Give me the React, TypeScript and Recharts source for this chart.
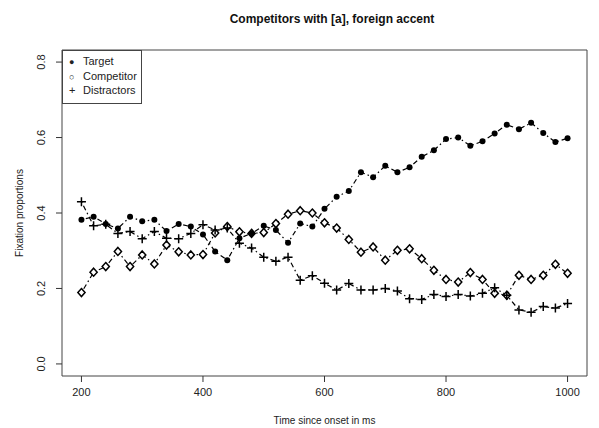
import { LineChart, Line, XAxis, YAxis, ReferenceArea } from 'recharts';

const times = [
  200, 220, 240, 260, 280, 300, 320, 340, 360, 380, 400, 420, 440, 460, 480, 500, 520, 540, 560, 580, 600,
  620, 640, 660, 680, 700, 720, 740, 760, 780, 800, 820, 840, 860, 880, 900, 920, 940, 960, 980, 1000,
];

const target = [
  0.382, 0.39, 0.371, 0.359, 0.39, 0.378, 0.382, 0.352, 0.371, 0.364, 0.343, 0.298, 0.275, 0.333, 0.346,
  0.366, 0.355, 0.321, 0.372, 0.364, 0.411, 0.443, 0.458, 0.508, 0.495, 0.525, 0.508, 0.521, 0.549, 0.566,
  0.596, 0.6, 0.578, 0.59, 0.611, 0.634, 0.622, 0.639, 0.612, 0.588, 0.598,
];

const competitor = [
  0.189, 0.243, 0.258, 0.298, 0.258, 0.289, 0.265, 0.315, 0.297, 0.289, 0.29, 0.347, 0.364, 0.35, 0.346,
  0.348, 0.372, 0.397, 0.406, 0.4, 0.374, 0.36, 0.33, 0.296, 0.31, 0.275, 0.301, 0.305, 0.279, 0.248,
  0.224, 0.217, 0.242, 0.224, 0.187, 0.182, 0.235, 0.224, 0.235, 0.264, 0.24,
];

const distractors = [
  0.43, 0.366, 0.37, 0.346, 0.351, 0.332, 0.351, 0.333, 0.332, 0.346, 0.369, 0.355, 0.36, 0.32, 0.307,
  0.283, 0.272, 0.283, 0.222, 0.234, 0.214, 0.196, 0.213, 0.196, 0.196, 0.2, 0.193, 0.173, 0.171, 0.184,
  0.179, 0.184, 0.18, 0.187, 0.202, 0.182, 0.143, 0.137, 0.152, 0.148, 0.16,
];

const xTicks = [200, 400, 600, 800, 1000];
const yTicks = [0, 0.2, 0.4, 0.6, 0.8];

const data = times.map((t, i) => ({
  time: t,
  target: target[i],
  competitor: competitor[i],
  distractors: distractors[i],
}));

const FONT = '"Liberation Sans", Arial, sans-serif';
const DASH = '1.5 3 5 3';

const FilledDot = (props: any) => {
  const { cx, cy, index } = props;
  if (cx == null || cy == null) return null;
  return <circle key={`t-${index}`} cx={cx} cy={cy} r={3} fill="#000" />;
};

const Diamond = (props: any) => {
  const { cx, cy, index } = props;
  if (cx == null || cy == null) return null;
  return (
    <path
      key={`c-${index}`}
      d={`M${cx},${cy - 4} L${cx + 3.6},${cy} L${cx},${cy + 4} L${cx - 3.6},${cy} Z`}
      fill="#fff"
      stroke="#000"
      strokeWidth={1.5}
    />
  );
};

const Plus = (props: any) => {
  const { cx, cy, index } = props;
  if (cx == null || cy == null) return null;
  return (
    <path
      key={`d-${index}`}
      d={`M${cx - 4.5},${cy} H${cx + 4.5} M${cx},${cy - 4.5} V${cy + 4.5}`}
      stroke="#000"
      strokeWidth={1.5}
    />
  );
};

const YTick = (props: any) => {
  const { y, payload } = props;
  return (
    <text
      x={45}
      y={y}
      transform={`rotate(-90 45 ${y})`}
      textAnchor="middle"
      fontSize={11}
      fontFamily={FONT}
      fill="#222"
    >
      {payload.value.toFixed(1)}
    </text>
  );
};

export default function App() {
  return (
    <div style={{ position: 'absolute', left: 0, top: 0, width: 599, height: 428, background: '#fff', fontFamily: FONT }}>
      <div style={{ position: 'absolute', left: 0, width: 664, top: 12, textAlign: 'center', fontSize: 12, fontWeight: 'bold', color: '#111' }}>
        Competitors with [a], foreign accent
      </div>
      <LineChart width={599} height={428} data={data} margin={{ top: 50, right: 12, bottom: 22, left: 22 }}>
        <XAxis
          dataKey="time"
          type="number"
          domain={[168, 1032]}
          ticks={xTicks}
          allowDataOverflow
          axisLine={false}
          tickLine={{ stroke: '#333' }}
          tickSize={6}
          tickMargin={6}
          height={30}
          tick={{ fontSize: 11, fill: '#222', fontFamily: FONT }}
        />
        <YAxis
          type="number"
          domain={[-0.032, 0.832]}
          ticks={yTicks}
          allowDataOverflow
          axisLine={false}
          tickLine={{ stroke: '#333' }}
          tickSize={6}
          width={40}
          tick={<YTick />}
        />
        <ReferenceArea x1={168} x2={1032} y1={-0.032} y2={0.832} fill="none" stroke="#444" strokeWidth={1} />
        <Line
          dataKey="competitor"
          stroke="#000"
          strokeWidth={1.2}
          strokeDasharray={DASH}
          dot={Diamond}
          isAnimationActive={false}
        />
        <Line
          dataKey="target"
          stroke="#000"
          strokeWidth={1.2}
          strokeDasharray={DASH}
          dot={FilledDot}
          isAnimationActive={false}
        />
        <Line
          dataKey="distractors"
          stroke="#000"
          strokeWidth={1.2}
          strokeDasharray={DASH}
          dot={Plus}
          isAnimationActive={false}
        />
      </LineChart>
      <div
        style={{
          position: 'absolute',
          left: 62,
          top: 50,
          width: 80,
          height: 54,
          border: '1px solid #444',
          background: '#fff',
          fontSize: 11,
          color: '#222',
          boxSizing: 'border-box',
          padding: '4px 0 0 6px',
          lineHeight: '13.5px',
        }}
      >
        <div><span style={{ display: 'inline-block', width: 14, fontSize: 9 }}>●</span>Target</div>
        <div><span style={{ display: 'inline-block', width: 14, fontSize: 9 }}>○</span>Competitor</div>
        <div><span style={{ display: 'inline-block', width: 14 }}>+</span>Distractors</div>
      </div>
      <div
        style={{
          position: 'absolute',
          left: 19,
          top: 213,
          transform: 'translate(-50%, -50%) rotate(-90deg)',
          whiteSpace: 'nowrap',
          fontSize: 10,
          color: '#222',
        }}
      >
        Fixation proportions
      </div>
      <div style={{ position: 'absolute', left: 62, width: 525, top: 415, textAlign: 'center', fontSize: 10, color: '#222' }}>
        Time since onset in ms
      </div>
    </div>
  );
}
